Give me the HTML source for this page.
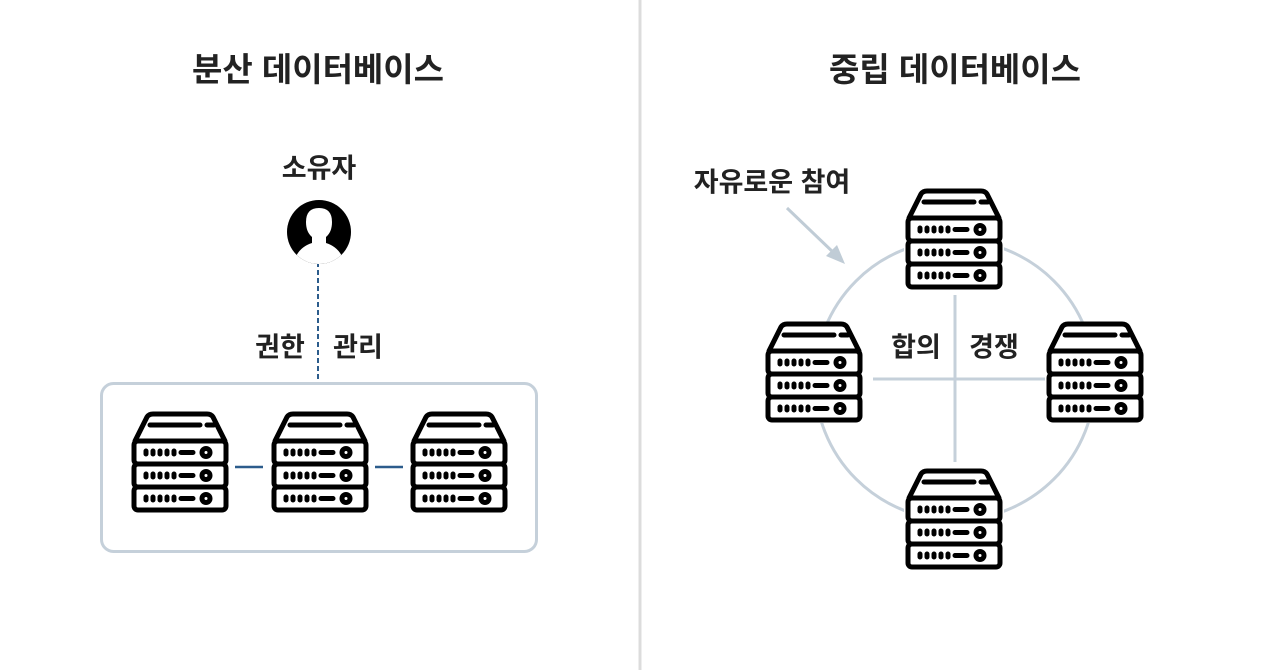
<!DOCTYPE html>
<html><head><meta charset="utf-8"><style>
body{margin:0;width:1280px;height:670px;background:#fff;position:relative;overflow:hidden;font-family:"Liberation Sans","Noto Sans CJK KR",sans-serif;color:#222}
.t{position:absolute;font-weight:bold;white-space:nowrap;transform:translate(-50%,-50%)}
</style></head><body>
<svg width="1280" height="670" style="position:absolute;left:0;top:0">
<defs>
<g id="srv" fill="none" stroke="#000" stroke-width="5" stroke-linecap="round" stroke-linejoin="round">
<rect x="0" y="0" width="100" height="100" fill="#fff" stroke="none"/>
<path d="M5,28 L17,4 Q19,1 23,1 L77,1 Q81,1 83,4 L95,28" fill="#fff"/>
<rect x="4" y="28" width="92" height="23" rx="4" fill="#fff"/>
<rect x="4" y="51" width="92" height="23" rx="4" fill="#fff"/>
<rect x="4" y="74" width="92" height="23" rx="4" fill="#fff"/>
<path d="M20,12 L70,12 M77,12 L84,12"/>
<g id="row"><path d="M16,38v3M23,38v3M30,38v3M37,38v3M44,38v3M51,39.5h12"/><circle cx="76" cy="39.5" r="4"/></g>
<use href="#row" y="23"/><use href="#row" y="46"/>
</g>
</defs>
<line x1="640" y1="0" x2="640" y2="670" stroke="#dcdcdc" stroke-width="3"/>
<rect x="101.5" y="383.5" width="435" height="168" rx="12" fill="none" stroke="#c5d0da" stroke-width="3"/>
<line x1="318" y1="262" x2="318" y2="382" stroke="#2c5c8c" stroke-width="2" stroke-dasharray="5,3"/>
<line x1="235" y1="467" x2="263" y2="467" stroke="#2c5c8c" stroke-width="2.5"/>
<line x1="375" y1="467" x2="403" y2="467" stroke="#2c5c8c" stroke-width="2.5"/>
<use href="#srv" x="130" y="413"/>
<use href="#srv" x="270" y="413"/>
<use href="#srv" x="409" y="413"/>
<clipPath id="cc"><circle cx="319" cy="232" r="32"/></clipPath>
<circle cx="319" cy="232" r="32" fill="#000"/>
<path clip-path="url(#cc)" d="M293,266 Q296,248 312,243 L312,237 Q306,232 306,222 Q306,208 319,208 Q332,208 332,222 Q332,232 326,237 L326,243 Q342,248 345,266Z" fill="#fff"/>
<circle cx="955" cy="380" r="140" fill="none" stroke="#c5d0da" stroke-width="3"/>
<line x1="955" y1="295" x2="955" y2="462" stroke="#c5d0da" stroke-width="3"/>
<line x1="873" y1="379" x2="1045" y2="379" stroke="#c5d0da" stroke-width="3"/>
<use href="#srv" x="904" y="190"/>
<use href="#srv" x="764" y="323"/>
<use href="#srv" x="1045" y="323"/>
<use href="#srv" x="904" y="470"/>
<line x1="787" y1="208" x2="836" y2="255" stroke="#c0ccd6" stroke-width="3"/>
<path d="M845,264 L826,256 L837,245Z" fill="#c0ccd6"/>
</svg>
<div class="t" style="left:318px;top:67px;font-size:33px">분산 데이터베이스</div>
<div class="t" style="left:955px;top:67px;font-size:33px">중립 데이터베이스</div>
<div class="t" style="left:319px;top:166px;font-size:27px">소유자</div>
<div class="t" style="left:280px;top:345px;font-size:27px">권한</div>
<div class="t" style="left:358px;top:345px;font-size:27px">관리</div>
<div class="t" style="left:772px;top:180px;font-size:27px">자유로운 참여</div>
<div class="t" style="left:916px;top:345px;font-size:27px">합의</div>
<div class="t" style="left:994px;top:345px;font-size:27px">경쟁</div>
</body></html>
